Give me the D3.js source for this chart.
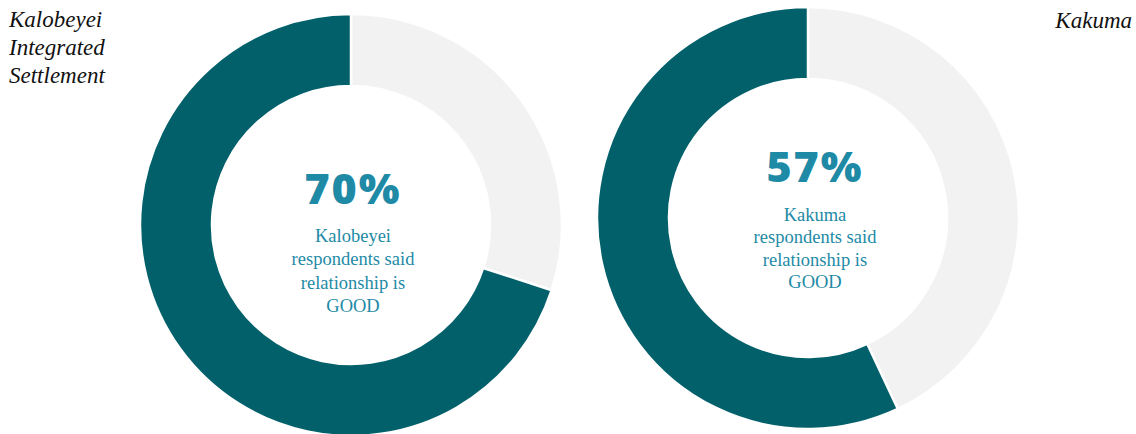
<!DOCTYPE html>
<html>
<head>
<meta charset="utf-8">
<script src="https://cdn.jsdelivr.net/npm/d3@7"></script>
<style>
  html, body { margin: 0; padding: 0; background: #ffffff; }
  svg { display: block; }
</style>
</head>
<body>
<svg id="chart" width="1136" height="434"></svg>
<script>
// Share of respondents rating the relationship as GOOD, per site
const sites = ["Kalobeyei Integrated Settlement", "Kakuma"];
const siteTitleLines = [["Kalobeyei", "Integrated", "Settlement"], ["Kakuma"]];
const goodShare = [70, 57];
const otherShare = [30, 43];
const captionLines = [
  ["Kalobeyei", "respondents said", "relationship is", "GOOD"],
  ["Kakuma", "respondents said", "relationship is", "GOOD"]
];

const svg = d3.select("#chart");

const darkColor = "#02606b";
const lightColor = "#f2f2f2";
const textColor = "#1e8aa6";

// layout for each donut
const panels = [
  { cx: 351, cy: 225, textX: 353, numY: 204, capY: 242, lh: 23.3 },
  { cx: 808, cy: 218, textX: 815, numY: 182, capY: 221, lh: 22.4 }
];
const outerR = 211, innerR = 139;

const color = d3.scaleOrdinal().domain(["other", "good"]).range([lightColor, darkColor]);

const pie = d3.pie()
  .sort(null)
  .value(d => d.value)
  .startAngle(0)
  .endAngle(2 * Math.PI);

const arc = d3.arc().innerRadius(innerR).outerRadius(outerR);

sites.forEach((site, i) => {
  const p = panels[i];
  const g = svg.append("g").attr("transform", `translate(${p.cx},${p.cy})`);
  const slices = [
    { key: "other", value: otherShare[i] },
    { key: "good", value: goodShare[i] }
  ];
  g.selectAll("path")
    .data(pie(slices))
    .join("path")
    .attr("d", arc)
    .attr("fill", d => color(d.data.key))
    .attr("stroke", "#ffffff")
    .attr("stroke-width", 2.5);

  // central percentage
  svg.append("text")
    .attr("x", p.textX)
    .attr("y", p.numY)
    .attr("text-anchor", "middle")
    .attr("font-family", "'Open Sans', sans-serif")
    .attr("font-weight", 800)
    .attr("font-size", 43)
    .attr("letter-spacing", 2)
    .attr("fill", textColor)
    .text(`${goodShare[i]}%`);

  // caption underneath
  const cap = svg.append("text")
    .attr("text-anchor", "middle")
    .attr("font-family", "'Liberation Serif', 'Times New Roman', serif")
    .attr("font-size", 18.5)
    .attr("fill", textColor);
  captionLines[i].forEach((line, j) => {
    cap.append("tspan")
      .attr("x", p.textX)
      .attr("y", p.capY + j * p.lh)
      .text(line);
  });
});

// site titles
const leftTitle = svg.append("text")
  .attr("font-family", "'Liberation Serif', 'Times New Roman', serif")
  .attr("font-style", "italic")
  .attr("font-size", 23)
  .attr("fill", "#111111");
siteTitleLines[0].forEach((line, j) => {
  leftTitle.append("tspan").attr("x", 9).attr("y", 27 + j * 28).text(line);
});

svg.append("text")
  .attr("x", 1132)
  .attr("y", 28)
  .attr("text-anchor", "end")
  .attr("font-family", "'Liberation Serif', 'Times New Roman', serif")
  .attr("font-style", "italic")
  .attr("font-size", 23)
  .attr("fill", "#111111")
  .text(siteTitleLines[1][0]);
</script>
</body>
</html>
